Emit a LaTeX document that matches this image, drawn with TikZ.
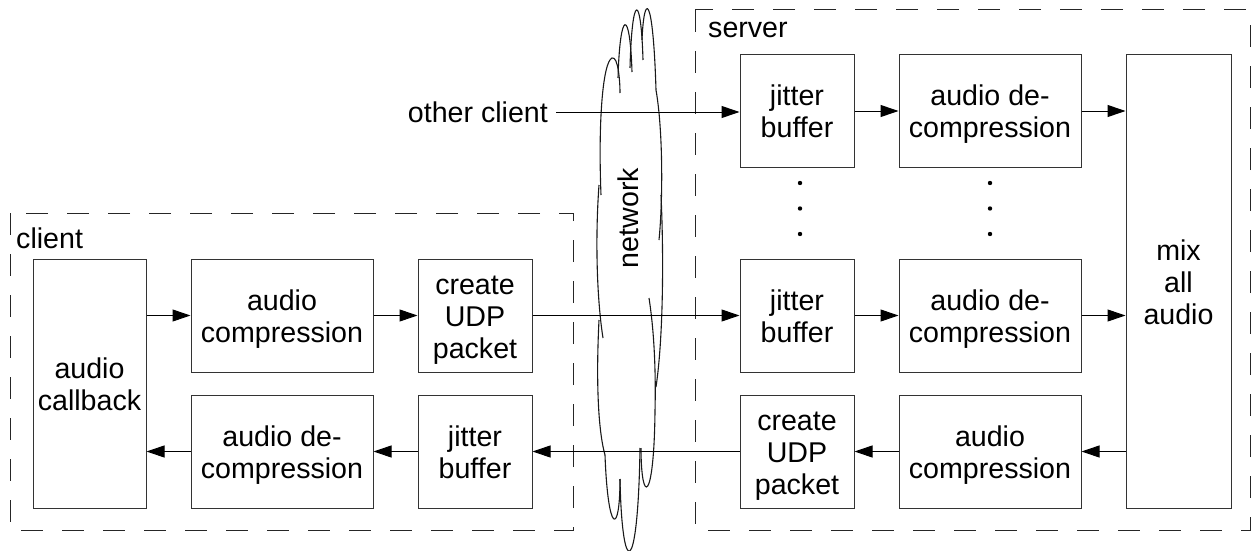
\documentclass[tikz,border=0pt]{standalone}
\usepackage{fontspec}
\setmainfont{Liberation Sans}
\usetikzlibrary{arrows.meta}
\newcommand\blktext[1]{\raisebox{-4.5pt}[\height][\depth]{\begin{tabular}{@{}c@{}}#1\end{tabular}}}
\begin{document}
\begin{tikzpicture}[x=1pt,y=-1pt,
  every node/.style={font=\fontsize{28.6}{32}\selectfont, text=black},
  blk/.style={draw=black!80, line width=1pt, inner sep=0pt, minimum width=#1},
  blk/.default=114pt,
  grp/.style={draw=black!85, line width=1pt, dash pattern=on 22pt off 19pt},
  arr/.style={draw=black, line width=1pt, -{Triangle[length=18pt,width=12pt]}},
  cloudline/.style={draw=black!90, line width=1.1pt},
  dotm/.style={fill=black}]
\useasboundingbox (0,0) rectangle (1256,551);
% groups
\draw[grp] (10,213) rectangle (573,530);
\draw[grp] (695,10) rectangle (1250,530);
\node[anchor=west, inner sep=0pt] (clientlbl) at (16,238) {client};
\node[anchor=west, inner sep=0pt] (serverlbl) at (708,30) {server};
% network cloud
\coordinate (net) at (630,278);
\draw[cloudline] (601,195) .. controls (598,120) and (603,62) .. (612,58)
                 .. controls (618,56) and (620,80) .. (620,93);
\draw[cloudline] (618,78) .. controls (620,8) and (630,8) .. (632,72);
\draw[cloudline] (630,68) .. controls (632,-8) and (641,-8) .. (643,60);
\draw[cloudline] (642,40) .. controls (644,-8) and (653,-8) .. (656,90)
                 .. controls (663,130) and (663,200) .. (659,240);
\draw[cloudline] (661,195) .. controls (664,260) and (663,340) .. (656,387);
\draw[cloudline] (649,298) .. controls (654,330) and (656,370) .. (655,411)
                 .. controls (654,505) and (641,505) .. (641,448);
\draw[cloudline] (640,448) .. controls (638,580) and (622,580) .. (620,479);
\draw[cloudline] (599,185) .. controls (595,240) and (597,300) .. (603,338);
\draw[cloudline] (599,320) .. controls (596,380) and (598,430) .. (605,455)
                 .. controls (608,536) and (620,536) .. (620,479);
\node[rotate=90] (netlbl) at (628,218) {network};
% client blocks
\node[blk=113pt, minimum height=249pt] (cb) at (89.5,383.5) {\blktext{audio\\callback}};
\node[blk=182pt, minimum height=113pt] (ac1) at (282,315.5) {\blktext{audio\\compression}};
\node[blk, minimum height=113pt] (udp1) at (475,315.5) {\blktext{create\\UDP\\packet}};
\node[blk=182pt, minimum height=113pt] (adc1) at (282,451.5) {\blktext{audio de-\\compression}};
\node[blk, minimum height=113pt] (jb1) at (475,451.5) {\blktext{jitter\\buffer}};
% server blocks
\node[blk, minimum height=112pt] (jbA) at (797,111) {\blktext{jitter\\buffer}};
\node[blk=182pt, minimum height=112pt] (adcA) at (990,111) {\blktext{audio de-\\compression}};
\node[blk, minimum height=113pt] (jbB) at (797,315.5) {\blktext{jitter\\buffer}};
\node[blk=182pt, minimum height=113pt] (adcB) at (990,315.5) {\blktext{audio de-\\compression}};
\node[blk, minimum height=113pt] (udp2) at (797,451.5) {\blktext{create\\UDP\\packet}};
\node[blk=182pt, minimum height=113pt] (ac2) at (990,451.5) {\blktext{audio\\compression}};
\node[blk=105pt, minimum height=453pt] (mix) at (1178.5,281.5) {\blktext{mix\\all\\audio}};
\node[anchor=east, inner sep=0pt] (other) at (548,112) {other client};
\coordinate (otherend) at (556,112);
% dots
\foreach \yy in {183,208.5,234} {
  \fill[dotm] (800,\yy) circle (2.2pt);
  \fill[dotm] (990,\yy) circle (2.2pt);
}
% arrows top row
\draw[arr] (otherend) -- (jbA.west |- otherend);
\draw[arr] (jbA) -- (adcA);
\draw[arr] (adcA) -- (adcA -| mix.west);
% middle row
\draw[arr] (cb.east |- ac1) -- (ac1);
\draw[arr] (ac1) -- (udp1);
\draw[arr] (udp1) -- (jbB);
\draw[arr] (jbB) -- (adcB);
\draw[arr] (adcB) -- (adcB -| mix.west);
% bottom row
\draw[arr] (mix.west |- ac2) -- (ac2);
\draw[arr] (ac2) -- (udp2);
\draw[arr] (udp2) -- (jb1);
\draw[arr] (jb1) -- (adc1);
\draw[arr] (adc1) -- (adc1 -| cb.east);
\end{tikzpicture}
\end{document}
